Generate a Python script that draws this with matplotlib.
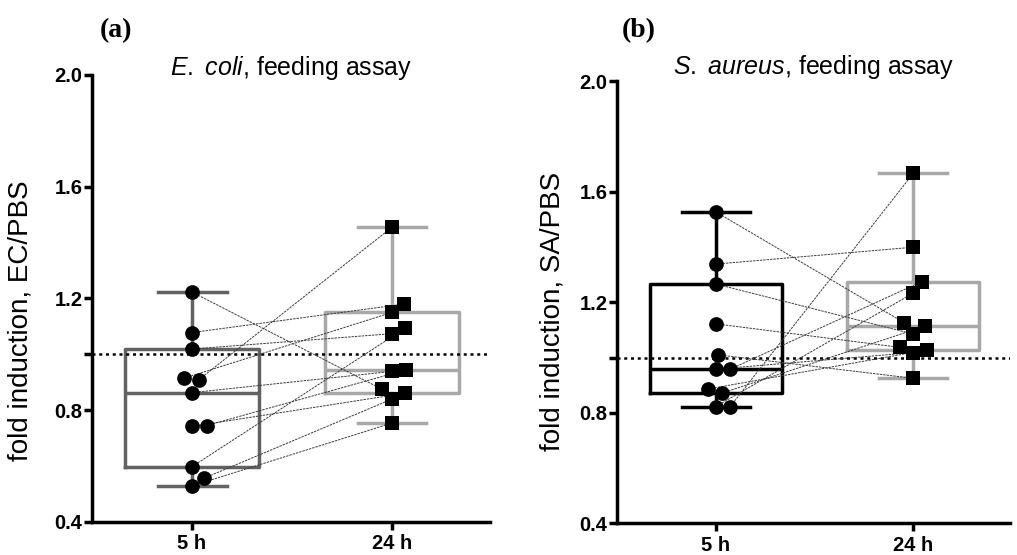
import numpy as np
import matplotlib
matplotlib.use("Agg")
from matplotlib import pyplot as plt

plt.rcParams["font.family"] = ["Liberation Sans", "DejaVu Sans"]
plt.rcParams["mathtext.fontset"] = "custom"
plt.rcParams["mathtext.rm"] = "Liberation Sans"
plt.rcParams["mathtext.it"] = "Liberation Sans:italic"

# paired samples: index i at 5 h belongs to index i at 24 h
categories = ["5 h", "24 h"]
ec_5h = [1.223, 1.078, 1.019, 0.909, 0.915, 0.863, 0.742, 0.745, 0.598, 0.557, 0.529]
ec_24h = [0.876, 1.180, 1.074, 1.455, 1.150, 0.939, 0.861, 0.945, 1.094, 0.840, 0.754]
sa_5h = [1.527, 1.338, 1.266, 1.122, 1.010, 0.958, 0.958, 0.886, 0.871, 0.823, 0.823]
sa_24h = [1.126, 1.399, 1.085, 1.037, 0.925, 1.018, 1.275, 1.028, 1.114, 1.233, 1.666]
baseline = 1.0
yticks = [0.4, 0.8, 1.2, 1.6, 2.0]
ytick_labels = ["0.4", "0.8", "1.2", "1.6", "2.0"]

SPINE_W = 2.5
MARKER_PX = 14.5


def box_stats(vals):
    q1, med, q3 = np.percentile(vals, [25, 50, 75], method="weibull")
    return dict(med=med, q1=q1, q3=q3, whislo=min(vals), whishi=max(vals))


def swarm(values, ppx, ppy, diam):
    # greedy beeswarm in pixel space, returns x offsets in data units
    offs = np.zeros(len(values))
    placed = []
    for i in np.argsort(values, kind="stable"):
        y = values[i] * ppy
        spans = []
        for px, py in placed:
            dy = abs(py - y)
            if dy < diam:
                dx = np.sqrt(diam ** 2 - dy ** 2)
                spans.append((px - dx, px + dx))
        cands = [0.0] + [e for s in spans for e in s]
        ok = [c for c in cands if all(not (lo + 1e-6 < c < hi - 1e-6) for lo, hi in spans)]
        best = min(ok, key=lambda c: (round(abs(c), 4), -c))
        offs[i] = best / ppx
        placed.append((best, y))
    return offs


def draw_panel(ax, before, after, colors, title, ylabel, title_pad, label_xy):
    ax.set_xlim(-0.5, 1.49)
    ax.set_ylim(0.4, 2.0)
    for pos, vals, col in zip([0, 1], [before, after], colors):
        ax.bxp([box_stats(vals)], positions=[pos], widths=0.667, capwidths=0.345,
               showfliers=False, manage_ticks=False,
               boxprops=dict(color=col, lw=SPINE_W),
               medianprops=dict(color=col, lw=SPINE_W),
               whiskerprops=dict(color=col, lw=SPINE_W),
               capprops=dict(color=col, lw=SPINE_W), zorder=1)
    ax.axhline(baseline, color="black", lw=1.8, ls=(0, (1.2, 1.5)), zorder=1.5)

    o0, o1 = ax.transData.transform([(0, 0), (1, 1)])
    ppx, ppy = o1 - o0
    off_b = swarm(before, ppx, ppy, MARKER_PX)
    off_a = swarm(after, ppx, ppy, MARKER_PX)
    xb = 0 + off_b
    xa = 1 + off_a
    for i in range(len(before)):
        ax.plot([xb[i], xa[i]], [before[i], after[i]], color="#3c3c3c", lw=0.7,
                ls=(0, (2.5, 1)), zorder=2)
    ax.plot(xb, before, "o", color="black", ms=10.6, mew=0, zorder=4, clip_on=False)
    ax.plot(xa, after, "s", color="black", ms=9.8, mew=0, zorder=4, clip_on=False)

    for s in ["top", "right"]:
        ax.spines[s].set_visible(False)
    for s in ["left", "bottom"]:
        ax.spines[s].set_linewidth(SPINE_W)
    ax.set_xticks([0, 1], categories, fontweight="bold")
    ax.set_yticks(yticks, ytick_labels, fontweight="bold")
    ax.set_yticks([baseline], minor=True)
    ax.tick_params(axis="y", which="both", length=6, width=SPINE_W, labelsize=14.5, pad=0.8)
    ax.tick_params(axis="x", length=6, width=SPINE_W, labelsize=14.5, pad=3)
    ax.set_title(title, fontsize=18, y=1.0, pad=title_pad)
    ax.set_ylabel(ylabel, fontsize=20)
    ax.yaxis.set_label_coords(*label_xy)


fig = plt.figure(figsize=(10.17, 5.55), dpi=100)
ax_a = fig.add_axes([0.0905, 0.0595, 0.3913, 0.8054])
ax_b = fig.add_axes([0.6067, 0.0568, 0.3864, 0.7972])

draw_panel(ax_a, ec_5h, ec_24h, ["#626262", "#a8a8a8"],
           r"$\mathit{E.\ coli}$, feeding assay", "fold induction, EC/PBS", 0, (-0.146, 0.45))
draw_panel(ax_b, sa_5h, sa_24h, ["#000000", "#a8a8a8"],
           r"$\mathit{S.\ aureus}$, feeding assay", "fold induction, SA/PBS", 5, (-0.13, 0.48))

fig.text(100 / 1017, 1 - 37 / 555, "(a)", family="Liberation Serif", fontweight="bold",
         fontsize=20, va="baseline")
fig.text(622 / 1017, 1 - 37 / 555, "(b)", family="Liberation Serif", fontweight="bold",
         fontsize=20, va="baseline")

fig.savefig("out.png", dpi=100)
